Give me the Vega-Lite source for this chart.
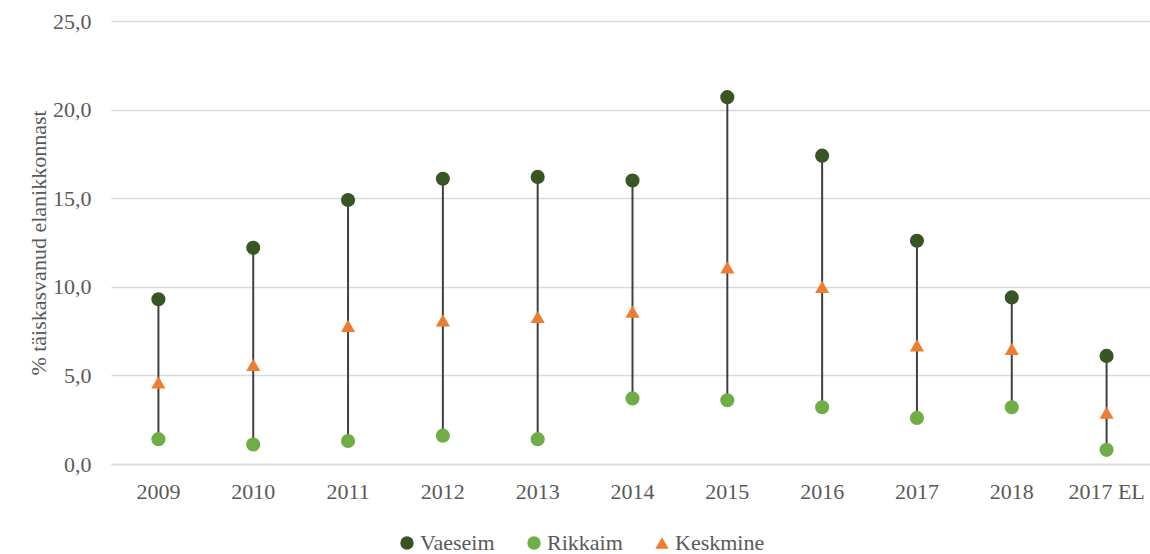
{
  "$schema": "https://vega.github.io/schema/vega-lite/v6.json",
  "width": 1043,
  "height": 443,
  "autosize": {"type": "pad"},
  "padding": {"left": 27, "top": 10, "right": 0, "bottom": 0},
  "background": "white",
  "data": {
    "values": [
      {"aasta": "2009", "Vaeseim": 9.3, "Rikkaim": 1.4, "Keskmine": 4.6},
      {"aasta": "2010", "Vaeseim": 12.2, "Rikkaim": 1.1, "Keskmine": 5.6},
      {"aasta": "2011", "Vaeseim": 14.9, "Rikkaim": 1.3, "Keskmine": 7.8},
      {"aasta": "2012", "Vaeseim": 16.1, "Rikkaim": 1.6, "Keskmine": 8.1},
      {"aasta": "2013", "Vaeseim": 16.2, "Rikkaim": 1.4, "Keskmine": 8.3},
      {"aasta": "2014", "Vaeseim": 16.0, "Rikkaim": 3.7, "Keskmine": 8.6},
      {"aasta": "2015", "Vaeseim": 20.7, "Rikkaim": 3.6, "Keskmine": 11.1},
      {"aasta": "2016", "Vaeseim": 17.4, "Rikkaim": 3.2, "Keskmine": 10.0},
      {"aasta": "2017", "Vaeseim": 12.6, "Rikkaim": 2.6, "Keskmine": 6.7},
      {"aasta": "2018", "Vaeseim": 9.4, "Rikkaim": 3.2, "Keskmine": 6.5},
      {"aasta": "2017 EL", "Vaeseim": 6.1, "Rikkaim": 0.8, "Keskmine": 2.9}
    ]
  },
  "encoding": {
    "x": {
      "field": "aasta",
      "type": "nominal",
      "sort": null,
      "scale": {"paddingInner": 0, "paddingOuter": 0},
      "axis": {
        "title": null,
        "labelAngle": 0,
        "labelPadding": 17,
        "ticks": false,
        "domainColor": "#d9d9d9",
        "domainWidth": 1.5,
        "grid": false
      }
    },
    "y": {
      "type": "quantitative",
      "scale": {"domain": [0, 25], "nice": false},
      "title": "% täiskasvanud elanikkonnast",
      "axis": {
        "values": [0, 5, 10, 15, 20, 25],
        "labelExpr": "replace(format(datum.value, '.1f'), '.', ',')",
        "labelPadding": 20,
        "titlePadding": 2,
        "ticks": false,
        "domain": false,
        "gridColor": "#d9d9d9",
        "gridWidth": 1.5
      }
    }
  },
  "layer": [
    {
      "mark": {"type": "rule", "color": "#404040", "strokeWidth": 2},
      "encoding": {
        "y": {
          "field": "Rikkaim",
          "type": "quantitative",
          "scale": {"domain": [0, 25], "nice": false},
          "title": "% täiskasvanud elanikkonnast",
          "axis": {
            "values": [0, 5, 10, 15, 20, 25],
            "labelExpr": "replace(format(datum.value, '.1f'), '.', ',')",
            "labelPadding": 20,
            "titlePadding": 2,
            "ticks": false,
            "domain": false,
            "gridColor": "#d9d9d9",
            "gridWidth": 1.5
          }
        },
        "y2": {"field": "Vaeseim"}
      }
    },
    {
      "transform": [
        {"fold": ["Vaeseim", "Rikkaim", "Keskmine"], "as": ["seeria", "vaartus"]}
      ],
      "mark": {"type": "point", "filled": true, "opacity": 1, "size": 200},
      "encoding": {
        "y": {
          "field": "vaartus",
          "type": "quantitative",
          "scale": {"domain": [0, 25], "nice": false},
          "title": "% täiskasvanud elanikkonnast",
          "axis": {
            "values": [0, 5, 10, 15, 20, 25],
            "labelExpr": "replace(format(datum.value, '.1f'), '.', ',')",
            "labelPadding": 20,
            "titlePadding": 2,
            "ticks": false,
            "domain": false,
            "gridColor": "#d9d9d9",
            "gridWidth": 1.5
          }
        },
        "color": {
          "field": "seeria",
          "type": "nominal",
          "scale": {"domain": ["Vaeseim", "Rikkaim", "Keskmine"], "range": ["#375623", "#70ad47", "#ed7d31"]},
          "legend": {
            "title": null,
            "orient": "none",
            "legendX": 285,
            "legendY": 511,
            "labelFont": "Liberation Serif",
            "labelFontSize": 22,
            "labelColor": "#595959",
            "encode": {"labels": {"update": {"font": {"value": "Liberation Serif"}, "fontSize": {"value": 22}}}}
          }
        },
        "shape": {
          "field": "seeria",
          "type": "nominal",
          "scale": {"domain": ["Vaeseim", "Rikkaim", "Keskmine"], "range": ["circle", "circle", "triangle-up"]},
          "legend": {
            "title": null,
            "orient": "none",
            "legendX": 285,
            "legendY": 511,
            "labelFont": "Liberation Serif",
            "labelFontSize": 22,
            "labelColor": "#595959",
            "encode": {"labels": {"update": {"font": {"value": "Liberation Serif"}, "fontSize": {"value": 22}}}}
          }
        }
      }
    }
  ],
  "config": {
    "font": "Liberation Serif",
    "view": {"stroke": null},
    "axis": {
      "labelFont": "Liberation Serif",
      "labelFontSize": 22,
      "labelColor": "#595959",
      "titleFont": "Liberation Serif",
      "titleFontSize": 22,
      "titleFontWeight": "normal",
      "titleColor": "#595959"
    },
    "legend": {
      "direction": "horizontal",
      "labelFont": "Liberation Serif",
      "labelFontSize": 22,
      "labelColor": "#595959",
      "symbolSize": 180,
      "symbolOpacity": 1,
      "columnPadding": 28,
      "labelOffset": 2
    }
  }
}
